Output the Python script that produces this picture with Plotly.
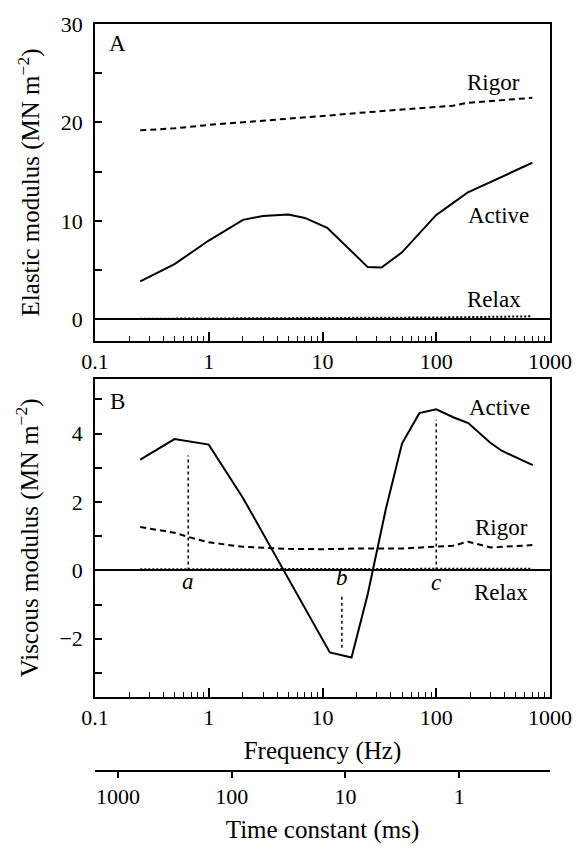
import math
import plotly.graph_objects as go

# ---------------- data ----------------
# Panel A: elastic modulus (MN m^-2)
el_active_f = [0.25, 0.5, 1, 2, 3, 5, 7, 11, 25, 33, 50, 100, 140, 190, 700]
el_active_v = [3.85, 5.6, 8.0, 10.1, 10.5, 10.65, 10.3, 9.3, 5.3, 5.25, 6.8, 10.6, 11.8, 12.9, 15.9]
el_rigor_f = [0.25, 0.5, 1, 2, 5, 10, 20, 50, 100, 140, 190, 300, 700]
el_rigor_v = [19.2, 19.4, 19.75, 20.0, 20.35, 20.65, 20.95, 21.3, 21.55, 21.7, 22.0, 22.15, 22.5]
el_relax_f = [0.25, 1, 10, 100, 700]
el_relax_v = [0.05, 0.08, 0.12, 0.18, 0.3]

# Panel B: viscous modulus (MN m^-2)
vi_active_f = [0.25, 0.5, 1, 2, 11.6, 18, 25, 36, 50, 71, 100, 141, 191, 297, 376, 705]
vi_active_v = [3.24, 3.84, 3.68, 2.12, -2.4, -2.55, -0.69, 1.79, 3.71, 4.6, 4.71, 4.48, 4.31, 3.74, 3.5, 3.08]
vi_rigor_f = [0.25, 0.5, 0.66, 1, 2, 5, 10, 20, 50, 100, 140, 190, 300, 700]
vi_rigor_v = [1.27, 1.1, 0.98, 0.82, 0.69, 0.63, 0.62, 0.64, 0.64, 0.69, 0.72, 0.84, 0.67, 0.74]
vi_relax_f = [0.25, 700]
vi_relax_v = [0.03, 0.05]

# Marked frequencies a, b, c
mark_labels = ["a", "b", "c"]
mark_f = [0.66, 14.8, 100]
mark_low = [0.0, -0.77, 0.0]
mark_high = [3.36, -2.3, 4.41]
mark_label_y = [-0.33, -0.2, -0.35]

# Axis tick labels
freq_ticks = [0.1, 1, 10, 100, 1000]
freq_ticktext = ["0.1", "1", "10", "100", "1000"]
time_constants_ms = [1000, 100, 10, 1]
el_ticks = [0, 10, 20, 30]
el_minor = [5, 15, 25]
vi_ticks = [-2, 0, 2, 4]
vi_ticktext = ["\u22122", "0", "2", "4"]
vi_minor = [-3, -1, 1, 3, 5]

# ---------------- figure ----------------
FONT = "Liberation Serif"
TICKF = dict(family=FONT, size=22, color="black")
TXTF = dict(family=FONT, size=23, color="black")
TITF = dict(family=FONT, size=25, color="black")

fig = go.Figure()
solid = dict(color="black", width=2)
dashed = dict(color="black", width=2, dash="6px,4px")
dotted = dict(color="black", width=2, dash="2px,2px")

def add(x, y, line, xa, ya):
    fig.add_trace(go.Scatter(x=x, y=y, mode="lines", line=line, xaxis=xa, yaxis=ya,
                             showlegend=False, hoverinfo="skip"))

add(el_rigor_f, el_rigor_v, dashed, "x", "y")
add(el_active_f, el_active_v, solid, "x", "y")
add(el_relax_f, el_relax_v, dotted, "x", "y")

add(vi_rigor_f, vi_rigor_v, dashed, "x2", "y2")
add(vi_active_f, vi_active_v, solid, "x2", "y2")
add(vi_relax_f, vi_relax_v, dotted, "x2", "y2")
for f, lo, hi in zip(mark_f, mark_low, mark_high):
    add([f, f], [lo, hi], dict(color="black", width=1.5, dash="3px,3px"), "x2", "y2")

# dummy trace for the time-constant axis
fig.add_trace(go.Scatter(x=[0.1, 1000], y=[0, 0], mode="lines", line=dict(width=0),
                         xaxis="x3", yaxis="y3", showlegend=False, hoverinfo="skip"))

top_px, bot_px, H = 15, 780, 851
span = bot_px - top_px
def dom(y_top, y_bot):
    return [(bot_px - y_bot) / span, (bot_px - y_top) / span]

minor_f = [m * 10 ** e for e in range(-1, 3) for m in range(2, 10)]

xcommon = dict(type="log", range=[-1, 3], showline=True, linecolor="black", linewidth=1.5,
               mirror=True, ticks="inside", ticklen=9, tickwidth=1.5, tickcolor="black",
               tickmode="array", tickvals=freq_ticks, ticktext=freq_ticktext, tickfont=TICKF,
               showgrid=False, zeroline=False,
               minor=dict(tickmode="array", tickvals=minor_f, ticks="inside", ticklen=5,
                          tickwidth=1.2, tickcolor="black", showgrid=False))
ycommon = dict(showline=True, linecolor="black", linewidth=1.5, mirror=True,
               ticks="inside", ticklen=7, tickwidth=1.5, tickcolor="black",
               tickfont=TICKF, showgrid=False, zeroline=True, zerolinecolor="black",
               zerolinewidth=1.5, ticklabelstandoff=6, tickmode="array")

fig.update_layout(
    width=586, height=H,
    margin=dict(l=95, r=36, t=top_px, b=H - bot_px),
    paper_bgcolor="white", plot_bgcolor="white",
    font=dict(family=FONT, color="black"),
    xaxis=dict(xcommon, anchor="y", domain=[0, 1]),
    yaxis=dict(ycommon, anchor="x", domain=dom(15, 340), range=[-2.2, 30],
               tickvals=el_ticks,
               minor=dict(tickmode="array", tickvals=el_minor, ticks="inside", ticklen=7,
                          tickwidth=1.5, tickcolor="black", showgrid=False),
               title=dict(text="Elastic modulus (MN m<sup>\u22122</sup>)", font=TITF, standoff=14)),
    xaxis2=dict(xcommon, anchor="y2", domain=[0, 1],
                title=dict(text="Frequency (Hz)", font=TITF, standoff=12)),
    yaxis2=dict(ycommon, anchor="x2", domain=dom(379, 705), range=[-3.7, 5.6],
                tickvals=vi_ticks, ticktext=vi_ticktext,
                minor=dict(tickmode="array", tickvals=vi_minor, ticks="inside", ticklen=7,
                           tickwidth=1.5, tickcolor="black", showgrid=False),
                title=dict(text="Viscous modulus (MN m<sup>\u22122</sup>)", font=TITF, standoff=14)),
    xaxis3=dict(type="log", range=[-1, 3], anchor="y3", domain=[0, 1], showline=True,
                linecolor="black", linewidth=1.5, ticks="outside", ticklen=6, tickwidth=1.5,
                tickcolor="black", tickmode="array",
                tickvals=[1000.0 / (2 * math.pi * t) for t in time_constants_ms],
                ticktext=[str(t) for t in time_constants_ms], tickfont=TICKF,
                showgrid=False, zeroline=False,
                title=dict(text="Time constant (ms)", font=TITF, standoff=12)),
    yaxis3=dict(domain=[0, 0.0005], visible=False, range=[0, 1]),
)

def ann(text, x, y, xref, yref, italic=False):
    fig.add_annotation(text=("<i>%s</i>" % text) if italic else text, x=x, y=y,
                       xref=xref, yref=yref, showarrow=False, font=TXTF,
                       xanchor="center", yanchor="middle")

ann("A", 0.05, 28.0, "paper", "y")
ann("Rigor", 2.50, 24.1, "x", "y")
ann("Active", 2.55, 10.5, "x", "y")
ann("Relax", 2.51, 2.0, "x", "y")
ann("B", 0.05, 4.95, "paper", "y2")
ann("Active", 2.56, 4.76, "x2", "y2")
ann("Rigor", 2.575, 1.24, "x2", "y2")
ann("Relax", 2.565, -0.64, "x2", "y2")
for lab, f, ly in zip(mark_labels, mark_f, mark_label_y):
    ann(lab, math.log10(f), ly, "x2", "y2", italic=True)

fig.write_html("out.html", config={"displayModeBar": False},
               post_script="document.body.style.margin='0px';")
